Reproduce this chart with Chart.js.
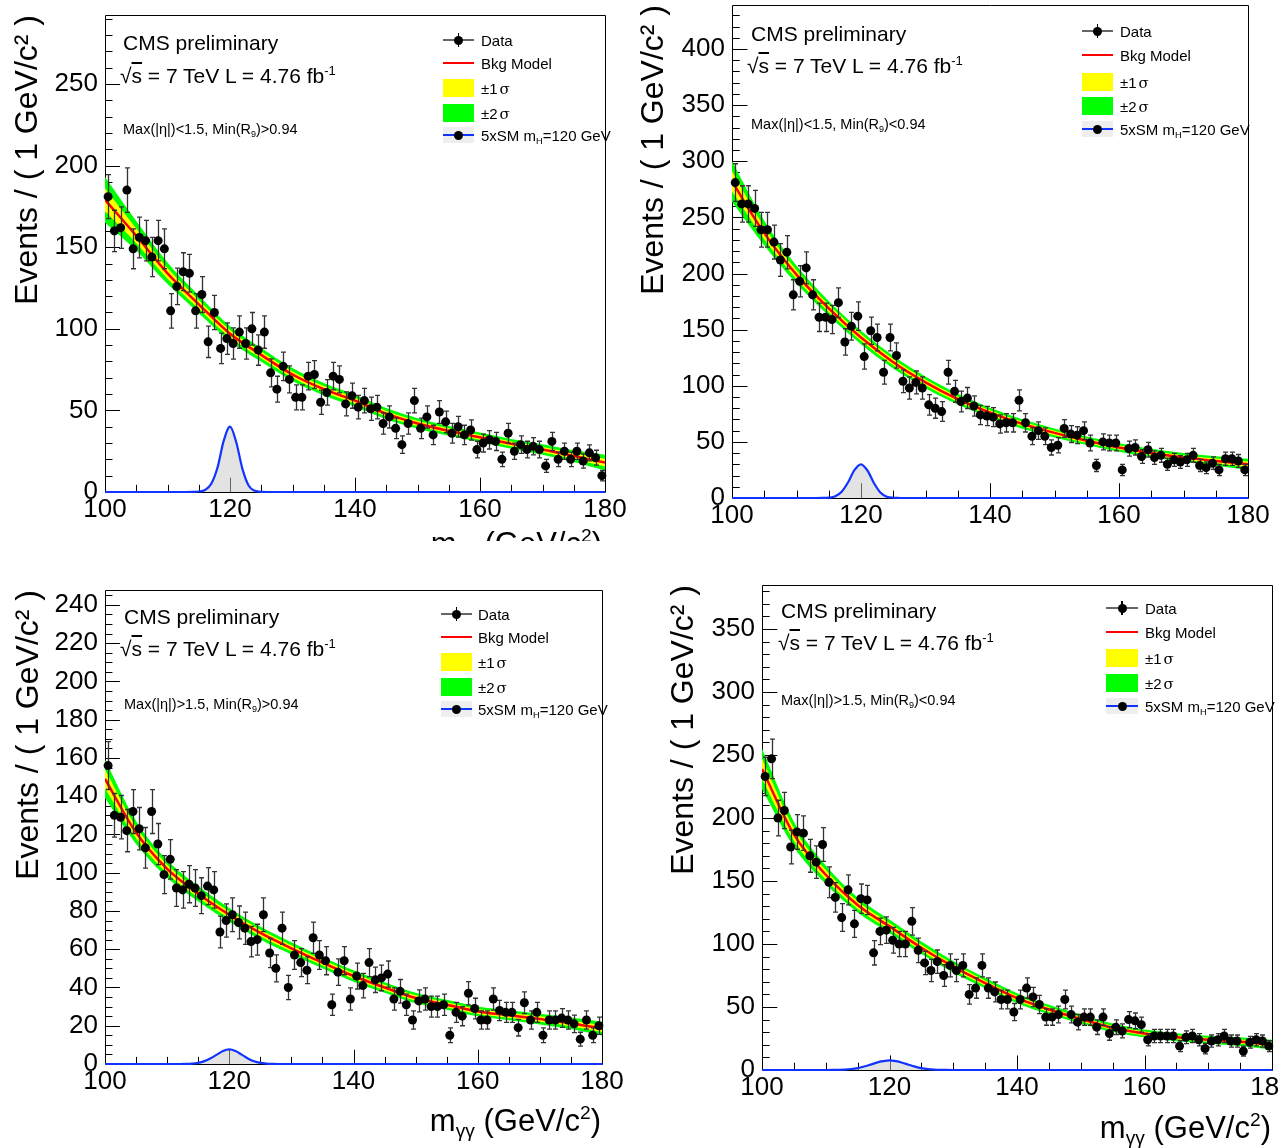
<!DOCTYPE html>
<html><head><meta charset="utf-8">
<script src="https://cdn.jsdelivr.net/npm/chart.js@4.4.0/dist/chart.umd.min.js"></script>
<style>
html,body{margin:0;padding:0;background:#fff;}
body{width:1278px;height:1148px;position:relative;overflow:hidden;font-family:'Liberation Sans',Arial,Helvetica,sans-serif;}
.panel{position:absolute;overflow:hidden;}
.panel canvas{position:absolute;left:0;top:0;}
.t{position:absolute;white-space:nowrap;line-height:1;color:#000;}
.t sub{font-size:62%;vertical-align:-0.3em;line-height:0;}
.t sup{font-size:62%;vertical-align:0.6em;line-height:0;}
.sym{font-family:'DejaVu Serif','Liberation Serif',serif;margin-left:2px;}
.mk{position:absolute;}
</style></head><body>
<div class="panel" id="p1"><canvas></canvas></div>
<div class="panel" id="p2"><canvas></canvas></div>
<div class="panel" id="p3"><canvas></canvas></div>
<div class="panel" id="p4"><canvas></canvas></div>
<script>
// ---------------- data ----------------
const BIN_START = 100, BIN_WIDTH = 1;
const X_MIN = 100, X_MAX = 180, X_MAJOR = 20, X_MINOR = 5;
const X_TICKS = [100,120,140,160,180];

const DATA_P1 = [181,160,162,185,149,156,154,144,154,149,
111,126,135,134,111,121,92,110,88,94,
91,98,91,100,87,98,73,63,77,69,
58,58,71,72,55,61,71,69,54,59,
52,56,51,52,42,46,39,29,42,56,
39,46,35,49,43,36,40,35,38,26,
30,32,31,20,36,25,29,26,28,26,
16,31,20,25,20,25,19,24,21,10];
const DATA_P2 = [281,262,262,258,239,239,228,212,219,181,
193,205,181,161,161,159,174,139,153,162,
126,149,143,112,143,127,104,98,103,98,
83,80,77,112,95,86,89,82,74,73,
72,66,67,67,87,67,55,60,55,45,
47,62,57,56,60,49,29,50,49,49,
25,44,45,37,43,36,38,30,34,32,
34,38,29,27,31,25,35,35,33,25];
const DATA_P3 = [156,130,129,122,132,123,113,132,115,99,
107,92,91,94,92,88,93,91,69,75,
78,74,71,64,65,78,58,50,71,40,
57,53,49,66,57,54,31,48,54,34,
46,41,53,44,45,47,34,38,31,23,
33,34,30,30,31,15,27,25,37,29,
23,23,34,28,27,27,19,32,23,27,
15,23,23,24,23,21,13,23,15,20];
const DATA_P4 = [233,247,200,206,177,189,188,170,165,179,
149,137,121,143,116,136,135,93,110,111,
103,100,100,118,95,85,79,86,75,83,
79,83,60,65,83,65,62,56,56,46,
56,65,58,52,42,42,44,56,44,38,
42,42,34,42,29,34,31,40,39,36,
24,27,27,27,27,19,26,27,24,17,
23,24,27,23,23,15,22,24,23,19];

const MODEL_X = [100,105,110,115,120,125,130,135,140,145,150,155,160,165,170,175,180];
const MODEL_P1 = [179,157,134,115,97,84,72,63,56,48,42,37.5,33.5,29.5,26,22,18];
const MODEL_P2 = [282,236,199,169,143,121,103,88,76,66,58,51,45,40,36,33,30];
const MODEL_P3 = [149,121,102,89,78,68.5,60.5,53,46,40,34.5,31,27.5,25.5,23.5,21.3,18.5];
const MODEL_P4 = [239,187,155,131,114,97,82,69,57,48,40.5,33.5,29,26,24,22.5,20];

const SIGMA_P1 = [7,4.5,3.3,2.7,2.3,2.1,2,1.9,1.8,1.7,1.6,1.5,1.5,1.5,1.6,1.8,2.4];
const SIGMA_P2 = [9,5.5,4,3.3,3,2.8,2.6,2.4,2.2,2.1,2,1.9,1.9,1.9,2,2.1,2.5];
const SIGMA_P3 = [5,3,2.3,2,1.8,1.7,1.6,1.5,1.5,1.4,1.4,1.3,1.3,1.3,1.4,1.5,1.8];
const SIGMA_P4 = [8,5,3.7,3,2.7,2.5,2.3,2.1,2,1.9,1.8,1.7,1.6,1.6,1.6,1.7,2];

const SIGNAL_X = [100,110,111,112,113,114,115,116,117,118,119,120,121,122,123,124,125,126,127,128,129,130,180];
const SIGNAL_P1 = [0,0,0,0,0,0.05,0.3,1.2,5,15,31.5,40,30.5,14,3.8,0.7,0.07,0,0,0,0,0,0];
const SIGNAL_P2 = [0,0,0,0,0,0.05,0.3,1.5,5.6,14,25,30,24.5,13.4,5,1.2,0.2,0.02,0,0,0,0,0];
const SIGNAL_P3 = [0,0,0,0,0.05,0.2,0.6,1.5,3,4.9,6.8,7.6,6.8,4.9,2.9,1.4,0.55,0.18,0.04,0,0,0,0];
const SIGNAL_P4 = [0,0,0.05,0.15,0.35,0.8,1.55,2.75,4.25,5.85,7.0,7.6,7.0,5.8,4.2,2.7,1.5,0.76,0.33,0.13,0.04,0,0];

const Y_MAX = [292.3, 439.2, 247.8, 385];
const Y_TICKS_P1 = [0,50,100,150,200,250];
const Y_TICKS_P2 = [0,50,100,150,200,250,300,350,400];
const Y_TICKS_P3 = [0,20,40,60,80,100,120,140,160,180,200,220,240];
const Y_TICKS_P4 = [0,50,100,150,200,250,300,350];
const Y_MAJOR = [50, 50, 20, 50];
const Y_MINOR = [10, 10, 5, 10];

const CMS_LABEL = 'CMS preliminary';
const LUMI_LABEL = '√<span style="text-decoration:overline">s</span> = 7 TeV L = 4.76 fb<sup>-1</sup>';
const CUT_LABELS = ['Max(|η|)&lt;1.5, Min(R<sub>9</sub>)&gt;0.94','Max(|η|)&lt;1.5, Min(R<sub>9</sub>)&lt;0.94',
                    'Max(|η|)&gt;1.5, Min(R<sub>9</sub>)&gt;0.94','Max(|η|)&gt;1.5, Min(R<sub>9</sub>)&lt;0.94'];
const LEGEND_LABELS = ['Data','Bkg Model','±1<span class="sym">σ</span>','±2<span class="sym">σ</span>','5xSM m<sub>H</sub>=120 GeV'];
const Y_TITLE = 'Events / ( 1 GeV/c² )';
const X_TITLE = 'm<sub>γγ</sub> (GeV/c<sup>2</sup>)';

// ---------------- layout ----------------
const FONT = "'Liberation Sans', Arial, Helvetica, sans-serif";
const PANELS = [
  {id:'p1', box:[0,0,640,541], canvas:[640,560], yw:105, padR:35, padT:15, xh:68, titlePad:12.5,
   data:DATA_P1, model:MODEL_P1, sigma:SIGMA_P1, signal:SIGNAL_P1, yticks:Y_TICKS_P1, k:0,
   cms:[123,42], lumi:[120,75], cut:[123,129], leg:{x:443,w:31,tx:481,rows:[40,63,88,113,135]}, xt:[602,543]},
  {id:'p2', box:[630,0,648,536], canvas:[648,560], yw:102, padR:30, padT:5, xh:62, titlePad:8,
   data:DATA_P2, model:MODEL_P2, sigma:SIGMA_P2, signal:SIGNAL_P2, yticks:Y_TICKS_P2, k:1,
   cms:[751,33], lumi:[747,65], cut:[751,124], leg:{x:1082,w:31,tx:1120,rows:[31,55,82,106,129]}, xt:[1246,550]},
  {id:'p3', box:[0,560,640,588], canvas:[640,588], yw:105, padR:38, padT:30, xh:84, titlePad:13.5,
   data:DATA_P3, model:MODEL_P3, sigma:SIGMA_P3, signal:SIGNAL_P3, yticks:Y_TICKS_P3, k:2,
   cms:[124,616], lumi:[120,648], cut:[124,704], leg:{x:441,w:31,tx:478,rows:[614,637,662,687,709]}, xt:[601,1120]},
  {id:'p4', box:[650,560,628,588], canvas:[680,588], yw:112, padR:58, padT:25, xh:78, titlePad:18,
   data:DATA_P4, model:MODEL_P4, sigma:SIGMA_P4, signal:SIGNAL_P4, yticks:Y_TICKS_P4, k:3,
   cms:[781,610], lumi:[778,642], cut:[781,700], leg:{x:1106,w:32,tx:1145,rows:[608,632,658,683,706]}, xt:[1271,1127]}
];

function framePlugin(p){
  const yMaj = Y_MAJOR[p.k], yMin = Y_MINOR[p.k], yMax = Y_MAX[p.k];
  return {id:'frame', beforeDatasetsDraw(chart){
    const {ctx, chartArea:a, scales:{x,y}} = chart;
    const W = a.right-a.left, H = a.bottom-a.top;
    const yl = 0.03*W, xl = 0.03*H;
    ctx.save(); ctx.strokeStyle='#000'; ctx.lineWidth=1; ctx.beginPath();
    const ratio = Math.round(yMaj/yMin);
    for (let i=0; i*yMin <= yMax+1e-9; i++){
      const py = Math.round(y.getPixelForValue(i*yMin))+0.5;
      const L = (i%ratio===0)? yl : yl/2;
      ctx.moveTo(a.left, py); ctx.lineTo(a.left+L, py);
    }
    const xr = Math.round(X_MAJOR/X_MINOR);
    for (let i=0; X_MIN+i*X_MINOR <= X_MAX+1e-9; i++){
      const px = Math.round(x.getPixelForValue(X_MIN+i*X_MINOR))+0.5;
      const L = (i%xr===0)? xl : xl/2;
      ctx.moveTo(px, a.bottom); ctx.lineTo(px, a.bottom-L);
    }
    ctx.rect(Math.round(a.left)+0.5, Math.round(a.top)+0.5, Math.round(W), Math.round(H));
    ctx.stroke(); ctx.restore();
  }};
}
const errorBars = {id:'errbars', beforeDatasetDraw(chart, args){
  if (args.index !== 0) return;
  const {ctx, scales:{x,y}} = chart;
  ctx.save(); ctx.strokeStyle='#333'; ctx.lineWidth=1.3; ctx.beginPath();
  chart.data.datasets[0].data.forEach(pt=>{
    const e = Math.sqrt(pt.y);
    const px = Math.round(x.getPixelForValue(pt.x))+0.5;
    const t = y.getPixelForValue(pt.y+e), b = y.getPixelForValue(Math.max(0, pt.y-e));
    ctx.moveTo(px,t); ctx.lineTo(px,b);
    ctx.moveTo(px-2.5,t); ctx.lineTo(px+2.5,t);
    ctx.moveTo(px-2.5,b); ctx.lineTo(px+2.5,b);
  });
  ctx.stroke(); ctx.restore();
}};

function addText(p, html, x, cy, size, right){
  const d = document.createElement('div'); d.className='t';
  d.innerHTML = html; d.style.fontSize = size+'px';
  d.style.top = (cy - 0.49*size - p.box[1])+'px';
  if (right) d.style.right = (p.box[0]+p.box[2]-x)+'px'; else d.style.left = (x-p.box[0])+'px';
  document.getElementById(p.id).appendChild(d);
  return d;
}
function addBox(p, x, y, w, h, bg, round){
  const d = document.createElement('div'); d.className='mk';
  Object.assign(d.style, {left:(x-p.box[0])+'px', top:(y-p.box[1])+'px', width:w+'px', height:h+'px', background:bg});
  if (round) d.style.borderRadius='50%';
  document.getElementById(p.id).appendChild(d);
}

function buildPanel(p){
  const k = p.k;
  const cont = document.getElementById(p.id);
  Object.assign(cont.style, {left:p.box[0]+'px', top:p.box[1]+'px', width:p.box[2]+'px', height:p.box[3]+'px'});
  const cv = cont.querySelector('canvas');
  cv.width = p.canvas[0]; cv.height = p.canvas[1];
  cv.style.width = p.canvas[0]+'px'; cv.style.height = p.canvas[1]+'px';
  const pts = p.data.map((v,i)=>({x: BIN_START + BIN_WIDTH*(i+0.5), y: v}));
  const model = MODEL_X.map((x,i)=>({x, y:p.model[i]}));
  const band = (m)=> MODEL_X.map((x,i)=>({x, y:p.model[i] + m*p.sigma[i]}));
  const sig = SIGNAL_X.map((x,i)=>({x, y:p.signal[i]}));
  const smooth = {cubicInterpolationMode:'monotone', pointRadius:0};
  new Chart(cv, {
    type:'line',
    data:{datasets:[
      {label:'Data', data:pts, showLine:false, pointRadius:4.5, pointBackgroundColor:'#000', pointBorderColor:'transparent', pointBorderWidth:0, borderColor:'transparent', order:0, clip:false},
      Object.assign({label:'Signal', data:sig, borderColor:'#1133ff', borderWidth:2.2, fill:'origin', backgroundColor:'rgba(200,200,200,0.5)', order:1, clip:false}, smooth),
      Object.assign({label:'Bkg Model', data:model, borderColor:'#ff0000', borderWidth:2.5, fill:false, order:2}, smooth),
      Object.assign({label:'+1s', data:band(1), borderColor:'transparent', borderWidth:0, fill:4, backgroundColor:'#ffff00', order:3}, smooth),
      Object.assign({label:'-1s', data:band(-1), borderColor:'transparent', borderWidth:0, fill:false, order:4}, smooth),
      Object.assign({label:'+2s', data:band(2), borderColor:'transparent', borderWidth:0, fill:6, backgroundColor:'#00ff00', order:5}, smooth),
      Object.assign({label:'-2s', data:band(-2), borderColor:'transparent', borderWidth:0, fill:false, order:6}, smooth)
    ]},
    options:{
      responsive:false, animation:false, devicePixelRatio:1, events:[],
      layout:{padding:{left:0, right:p.padR, top:p.padT, bottom:0}},
      plugins:{legend:{display:false}, tooltip:{enabled:false}},
      scales:{
        x:{type:'linear', position:'bottom', min:X_MIN, max:X_MAX,
           afterBuildTicks:(s)=>{ s.ticks = X_TICKS.map(v=>({value:v})); },
           afterFit:(s)=>{s.height=p.xh; s.paddingLeft=0; s.paddingRight=0;},
           grid:{display:false, drawTicks:false}, border:{display:false},
           ticks:{autoSkip:false, maxRotation:0, padding:2, color:'#000', font:{family:FONT, size:26},
                  callback:(v)=> String(v)}},
        y:{type:'linear', position:'left', min:0, max:Y_MAX[k],
           afterBuildTicks:(s)=>{ s.ticks = p.yticks.map(v=>({value:v})); },
           afterFit:(s)=>{s.width=p.yw; s.paddingTop=0; s.paddingBottom=0;},
           grid:{display:false, drawTicks:false}, border:{display:false},
           ticks:{autoSkip:false, padding:7, color:'#000', font:{family:FONT, size:26},
                  callback:(v)=> String(v)},
           title:{display:true, text:Y_TITLE, align:'end', color:'#000', font:{family:FONT, size:32, lineHeight:1}, padding:{top:p.titlePad, bottom:0}}}
      }
    },
    plugins:[framePlugin(p), errorBars]
  });

  // texts
  addText(p, CMS_LABEL, p.cms[0], p.cms[1], 21);
  addText(p, LUMI_LABEL, p.lumi[0], p.lumi[1], 21);
  addText(p, CUT_LABELS[k], p.cut[0], p.cut[1], 14.5);
  addText(p, X_TITLE, p.xt[0], p.xt[1], 31, true);
  // legend
  const L = p.leg, cx = L.x + L.w/2, r = L.rows;
  addBox(p, L.x, r[0]-1, L.w, 2, '#666');
  addBox(p, cx-0.75, r[0]-7, 1.5, 14, '#000');
  addBox(p, cx-4.5, r[0]-4.5, 9, 9, '#000', true);
  addBox(p, L.x, r[1]-1.25, L.w, 2.5, '#ff0000');
  addBox(p, L.x, r[2]-9, L.w, 18, '#ffff00');
  addBox(p, L.x, r[3]-9, L.w, 18, '#00ff00');
  addBox(p, L.x, r[4]-8, L.w, 16, '#eeeeee');
  addBox(p, L.x, r[4]-1.25, L.w, 2.5, '#1133ff');
  addBox(p, cx-4.5, r[4]-4.5, 9, 9, '#000', true);
  LEGEND_LABELS.forEach((s,i)=> addText(p, s, L.tx, r[i], 15));
}
PANELS.forEach(buildPanel);
</script>
</body></html>
